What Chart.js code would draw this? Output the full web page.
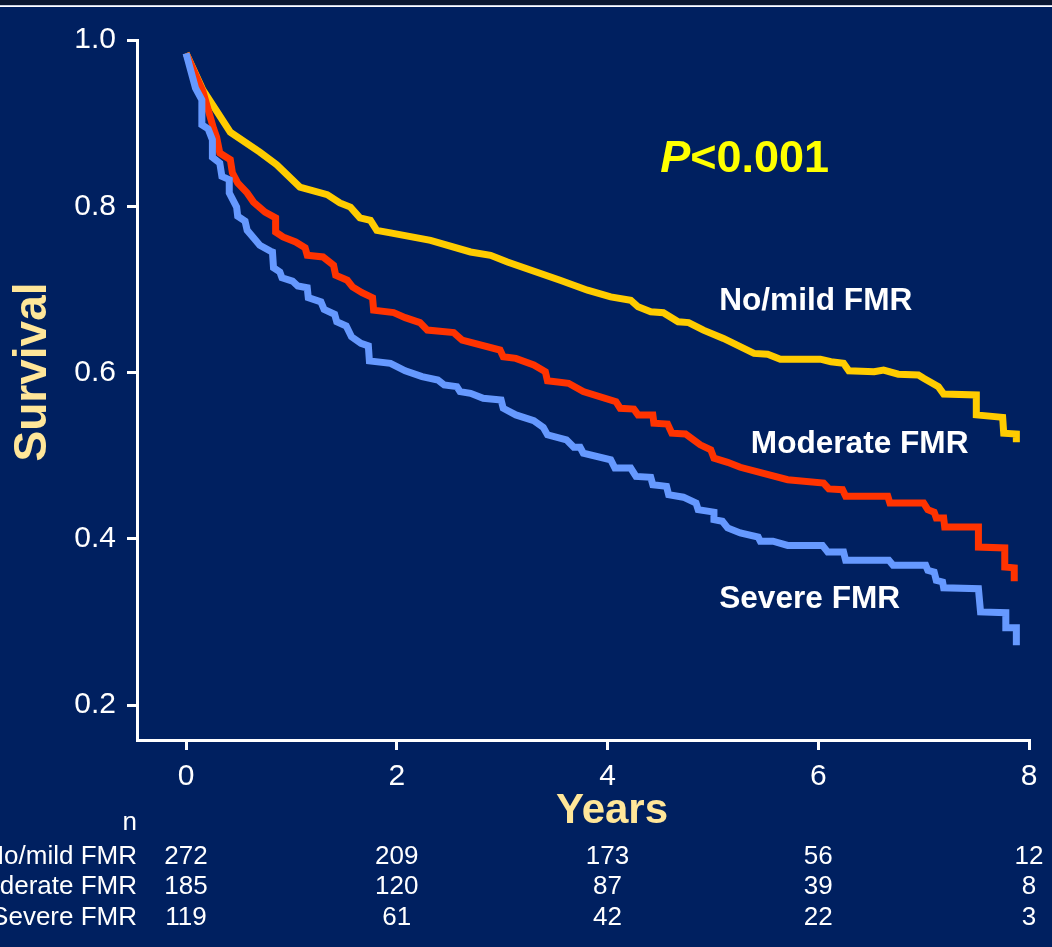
<!DOCTYPE html>
<html>
<head>
<meta charset="utf-8">
<script src="https://cdn.jsdelivr.net/npm/chart.js@4.4.1/dist/chart.umd.min.js"></script>
<style>
html,body{margin:0;padding:0;background:#002060;}
#wrap{position:relative;width:1052px;height:947px;}
</style>
</head>
<body>
<div id="wrap"><canvas id="c" width="1052" height="947"></canvas></div>
<script>
// ---- data ----
const groupNames = ["No/mild FMR", "Moderate FMR", "Severe FMR"];
const xTickValues = [0, 2, 4, 6, 8];
const yTickValues = [0.2, 0.4, 0.6, 0.8, 1.0];

const noMildYears = [0,0.16,0.42,0.70,0.86,1.08,1.34,1.46,1.56,1.65,1.75,1.81,1.94,2.32,2.70,2.89,3.05,3.55,3.81,4.03,4.22,4.29,4.41,4.53,4.67,4.77,4.91,5.10,5.39,5.52,5.64,6.02,6.12,6.24,6.29,6.53,6.62,6.76,6.95,7.00,7.14,7.19,7.50,7.50,7.75,7.76,7.88,7.88];
const noMildSurv  = [0.984,0.940,0.889,0.865,0.850,0.823,0.814,0.804,0.799,0.786,0.783,0.771,0.768,0.759,0.745,0.741,0.733,0.711,0.699,0.691,0.687,0.679,0.673,0.672,0.661,0.660,0.651,0.641,0.623,0.622,0.616,0.616,0.613,0.611,0.602,0.601,0.603,0.598,0.597,0.593,0.583,0.574,0.573,0.549,0.546,0.527,0.526,0.516];

const moderateYears = [0,0.16,0.26,0.29,0.32,0.42,0.44,0.49,0.58,0.64,0.75,0.85,0.85,0.92,1.04,1.13,1.15,1.30,1.40,1.42,1.53,1.58,1.67,1.77,1.78,1.97,2.08,2.22,2.29,2.54,2.62,2.98,3.01,3.13,3.30,3.41,3.43,3.63,3.77,4.08,4.12,4.25,4.29,4.43,4.44,4.57,4.61,4.74,4.88,4.98,5.01,5.14,5.26,5.71,6.05,6.10,6.23,6.26,6.66,6.68,7.00,7.04,7.10,7.12,7.19,7.20,7.52,7.52,7.77,7.77,7.86,7.86];
const moderateSurv  = [0.984,0.938,0.894,0.883,0.864,0.856,0.840,0.828,0.816,0.805,0.793,0.786,0.769,0.763,0.757,0.750,0.741,0.739,0.729,0.717,0.711,0.703,0.696,0.690,0.675,0.672,0.666,0.660,0.651,0.648,0.639,0.627,0.619,0.617,0.609,0.601,0.590,0.587,0.577,0.565,0.557,0.556,0.549,0.549,0.539,0.538,0.527,0.526,0.513,0.507,0.497,0.492,0.486,0.471,0.467,0.460,0.459,0.451,0.451,0.443,0.443,0.435,0.432,0.425,0.425,0.414,0.414,0.390,0.389,0.366,0.365,0.349];

const severeYears = [0,0.09,0.15,0.15,0.21,0.25,0.25,0.32,0.34,0.41,0.41,0.48,0.49,0.56,0.58,0.64,0.70,0.80,0.82,0.83,0.89,0.91,1.01,1.06,1.15,1.16,1.28,1.31,1.41,1.43,1.52,1.57,1.66,1.73,1.74,1.94,2.08,2.24,2.39,2.45,2.57,2.60,2.70,2.82,2.99,3.01,3.13,3.30,3.39,3.43,3.61,3.68,3.74,3.77,4.03,4.07,4.22,4.27,4.41,4.43,4.56,4.58,4.72,4.84,4.86,5.01,5.01,5.09,5.14,5.26,5.43,5.45,5.57,5.71,6.04,6.09,6.24,6.26,6.67,6.71,7.02,7.04,7.10,7.12,7.18,7.19,7.52,7.54,7.78,7.78,7.88,7.88];
const severeSurv  = [0.984,0.942,0.928,0.898,0.893,0.880,0.859,0.852,0.836,0.832,0.816,0.799,0.788,0.782,0.771,0.762,0.753,0.746,0.745,0.726,0.721,0.714,0.710,0.704,0.702,0.690,0.685,0.676,0.670,0.661,0.656,0.643,0.635,0.632,0.614,0.611,0.602,0.595,0.591,0.585,0.583,0.577,0.575,0.569,0.567,0.557,0.549,0.542,0.534,0.525,0.519,0.510,0.510,0.503,0.495,0.485,0.485,0.475,0.474,0.465,0.463,0.453,0.450,0.443,0.435,0.432,0.423,0.421,0.413,0.407,0.402,0.397,0.397,0.392,0.392,0.384,0.384,0.374,0.374,0.368,0.368,0.362,0.360,0.350,0.348,0.341,0.340,0.312,0.311,0.293,0.293,0.272];

const atRiskYears = [0, 2, 4, 6, 8];
const noMildAtRisk = [272, 209, 173, 56, 12];
const moderateAtRisk = [185, 120, 87, 39, 8];
const severeAtRisk = [119, 61, 42, 22, 3];

// ---- chart ----
const FONT = "'Liberation Sans', Arial, sans-serif";
const toPts = (xs, ys) => xs.map((x, i) => ({x: x, y: ys[i]}));

const overlay = {
  id: 'overlay',
  beforeDraw(chart) {
    const ctx = chart.ctx;
    ctx.save();
    ctx.fillStyle = '#002060';
    ctx.fillRect(0, 0, chart.width, chart.height);
    ctx.fillStyle = '#0a1731';
    ctx.fillRect(0, 0, chart.width, 5);
    ctx.fillStyle = '#c8d0e0';
    ctx.fillRect(0, 5, chart.width, 1);
    ctx.fillStyle = '#ffffff';
    ctx.fillRect(0, 6, chart.width, 1);
    ctx.restore();
  },
  afterDraw(chart) {
    const ctx = chart.ctx;
    const xs = chart.scales.x, ys = chart.scales.y;
    ctx.save();
    // axis titles
    ctx.fillStyle = '#ffe699';
    ctx.font = 'bold 46px ' + FONT;
    ctx.textAlign = 'center';
    ctx.textBaseline = 'middle';
    ctx.save();
    ctx.translate(33, 372);
    ctx.rotate(-Math.PI / 2);
    ctx.fillText('Survival', 0, 0);
    ctx.restore();
    ctx.font = 'bold 42px ' + FONT;
    ctx.textBaseline = 'alphabetic';
    ctx.fillText('Years', 612, 823);

    // P value
    ctx.textAlign = 'left';
    ctx.fillStyle = '#ffff00';
    let px = xs.getPixelForValue(4.50), py = ys.getPixelForValue(0.841);
    ctx.font = 'italic bold 45px ' + FONT;
    ctx.fillText('P', px, py);
    const pw = ctx.measureText('P').width;
    ctx.font = 'bold 45px ' + FONT;
    ctx.fillText('<0.001', px + pw, py);

    // curve labels
    ctx.fillStyle = '#ffffff';
    ctx.font = 'bold 31.6px ' + FONT;
    ctx.fillText(groupNames[0], xs.getPixelForValue(5.06), ys.getPixelForValue(0.675));
    ctx.fillText(groupNames[1], xs.getPixelForValue(5.36), ys.getPixelForValue(0.503));
    ctx.fillText(groupNames[2], xs.getPixelForValue(5.06), ys.getPixelForValue(0.317));

    // at-risk table
    ctx.font = '26px ' + FONT;
    const left = chart.chartArea.left;
    ctx.textAlign = 'right';
    ctx.fillText('n', left, 830);
    const rows = [noMildAtRisk, moderateAtRisk, severeAtRisk];
    const baselines = [864, 894, 925];
    rows.forEach((row, r) => {
      ctx.textAlign = 'right';
      ctx.fillText(groupNames[r], left, baselines[r]);
      ctx.textAlign = 'center';
      row.forEach((n, i) => {
        ctx.fillText(String(n), xs.getPixelForValue(atRiskYears[i]), baselines[r]);
      });
    });
    ctx.restore();
  }
};

const lineDs = (label, xsArr, ysArr, color, order) => ({
  label, data: toPts(xsArr, ysArr), borderColor: color, backgroundColor: color,
  borderWidth: 7, pointRadius: 0, tension: 0, fill: false, order,
  borderCapStyle: 'butt', borderJoinStyle: 'miter'
});

new Chart(document.getElementById('c'), {
  type: 'line',
  data: {
    datasets: [
      lineDs(groupNames[2], severeYears, severeSurv, '#6699ff', 0),
      lineDs(groupNames[1], moderateYears, moderateSurv, '#ff3300', 1),
      lineDs(groupNames[0], noMildYears, noMildSurv, '#ffcc00', 2)
    ]
  },
  options: {
    responsive: false,
    animation: false,
    events: [],
    layout: { padding: { left: 0, top: 40, right: 23, bottom: 147 } },
    plugins: { legend: { display: false }, tooltip: { enabled: false } },
    scales: {
      x: {
        type: 'linear', min: -0.4656, max: 8,
        afterBuildTicks: s => { s.ticks = xTickValues.map(v => ({value: v})); },
        afterFit: s => { s.height = 60; },
        grid: { display: true, drawOnChartArea: false, drawTicks: true, tickLength: 10, color: '#ffffff', lineWidth: 3 },
        border: { display: true, color: '#ffffff', width: 3 },
        ticks: { color: '#ffffff', font: { family: FONT, size: 30 }, padding: 9, maxRotation: 0, callback: v => String(v) }
      },
      y: {
        type: 'linear', min: 0.1579, max: 1.0,
        afterBuildTicks: s => { s.ticks = yTickValues.map(v => ({value: v})); },
        afterFit: s => { s.width = 137; },
        grid: { display: true, drawOnChartArea: false, drawTicks: true, tickLength: 10, color: '#ffffff', lineWidth: 3 },
        border: { display: true, color: '#ffffff', width: 3 },
        ticks: { color: '#ffffff', font: { family: FONT, size: 30 }, padding: 11, callback: v => v.toFixed(1) }
      }
    }
  },
  plugins: [overlay]
});
</script>
</body>
</html>
